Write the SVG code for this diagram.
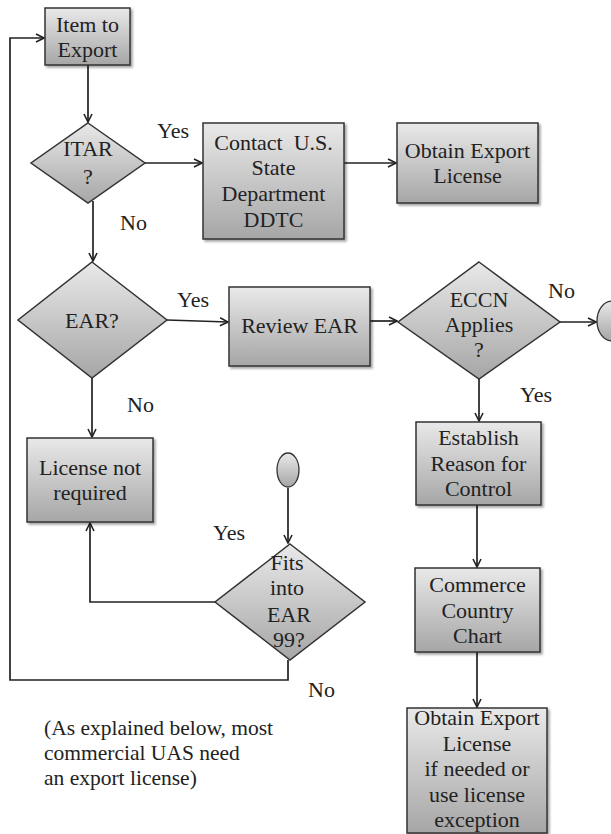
<svg xmlns="http://www.w3.org/2000/svg" width="611" height="834" viewBox="0 0 611 834">
  <defs>
    <linearGradient id="shade" x1="0" y1="0" x2="0" y2="1">
      <stop offset="0" stop-color="#e9e9e9"/>
      <stop offset="1" stop-color="#a6a6a6"/>
    </linearGradient>
    <filter id="shadow" x="-10%" y="-10%" width="130%" height="130%">
      <feDropShadow dx="2" dy="2" stdDeviation="1.2" flood-color="#000" flood-opacity="0.35"/>
    </filter>
    <marker id="arrow" viewBox="0 0 10 10" refX="9" refY="5" markerWidth="10" markerHeight="10" markerUnits="userSpaceOnUse" orient="auto">
      <path d="M1,1 L9,5 L1,9" fill="none" stroke="#222" stroke-width="1.6"/>
    </marker>
  </defs>
  <style>
    .box { fill: url(#shade); stroke: #333; stroke-width: 1.5; filter: url(#shadow); }
    .dia { fill: url(#shade); stroke: #333; stroke-width: 1.5; }
    .term { fill: url(#shade); stroke: #333; stroke-width: 1.3; }
    .t { font-family: "Liberation Serif", "DejaVu Serif", serif; font-size: 22px; fill: #222; text-anchor: middle; white-space: pre; }
    .lbl { font-family: "Liberation Serif", "DejaVu Serif", serif; font-size: 22px; fill: #222; }
    .note { font-family: "Liberation Serif", "DejaVu Serif", serif; font-size: 21.5px; fill: #222; }
    .conn path { fill: none; stroke: #222; stroke-width: 1.7; }
  </style>
  <rect width="611" height="834" fill="#ffffff"/>

  <!-- connectors -->
  <g id="connectors" class="conn">
    <path d="M288,660 V680 H10 V38 H44" marker-end="url(#arrow)"/>
    <path d="M88,65 V122" marker-end="url(#arrow)"/>
    <path d="M145,163 H202" marker-end="url(#arrow)"/>
    <path d="M344,163 H396" marker-end="url(#arrow)"/>
    <path d="M93,201 V261" marker-end="url(#arrow)"/>
    <path d="M167,320 L228,322" marker-end="url(#arrow)"/>
    <path d="M370,321 H397" marker-end="url(#arrow)"/>
    <path d="M560,322 H596" marker-end="url(#arrow)"/>
    <path d="M479,367 V421" marker-end="url(#arrow)"/>
    <path d="M477,505 V567" marker-end="url(#arrow)"/>
    <path d="M477,652 V707" marker-end="url(#arrow)"/>
    <path d="M92,378 V437" marker-end="url(#arrow)"/>
    <path d="M288,488 V543" marker-end="url(#arrow)"/>
    <path d="M215,602 H90 V523" marker-end="url(#arrow)"/>
  </g>

  <!-- nodes -->
  <g id="item-to-export">
    <rect class="box" x="45" y="8" width="85" height="57"/>
    <text class="t" x="87.5" y="32">Item to</text>
    <text class="t" x="87.5" y="57">Export</text>
  </g>

  <g id="itar">
    <polygon class="dia" points="88,123 145,163 88,203 31,163"/>
    <text class="t" x="88" y="156">ITAR</text>
    <text class="t" x="88" y="184">?</text>
  </g>

  <g id="contact-ddtc">
    <rect class="box" x="203" y="123" width="141" height="116"/>
    <text class="t" x="273.5" y="150" xml:space="preserve">Contact  U.S.</text>
    <text class="t" x="273.5" y="175">State</text>
    <text class="t" x="273.5" y="201">Department</text>
    <text class="t" x="273.5" y="227">DDTC</text>
  </g>

  <g id="obtain-license-state">
    <rect class="box" x="397" y="123" width="141" height="80"/>
    <text class="t" x="467.5" y="158">Obtain Export</text>
    <text class="t" x="467.5" y="183">License</text>
  </g>

  <g id="ear">
    <polygon class="dia" points="92,262 167,320 92,378 18,320"/>
    <text class="t" x="92" y="328">EAR?</text>
  </g>

  <g id="review-ear">
    <rect class="box" x="229" y="287" width="141" height="79"/>
    <text class="t" x="299.5" y="333">Review EAR</text>
  </g>

  <g id="eccn">
    <polygon class="dia" points="479,262 560,322 479,379 398,322"/>
    <text class="t" x="479" y="307">ECCN</text>
    <text class="t" x="479" y="332">Applies</text>
    <text class="t" x="479" y="357">?</text>
  </g>

  <g id="connector-right">
    <ellipse class="term" cx="612" cy="321" rx="15" ry="20"/>
  </g>

  <g id="establish-reason">
    <rect class="box" x="416" y="422" width="125" height="83"/>
    <text class="t" x="478.5" y="445">Establish</text>
    <text class="t" x="478.5" y="471">Reason for</text>
    <text class="t" x="478.5" y="496">Control</text>
  </g>

  <g id="commerce-country-chart">
    <rect class="box" x="415" y="568" width="125" height="84"/>
    <text class="t" x="477.5" y="592">Commerce</text>
    <text class="t" x="477.5" y="618">Country</text>
    <text class="t" x="477.5" y="643">Chart</text>
  </g>

  <g id="obtain-license-commerce">
    <rect class="box" x="407" y="708" width="140" height="125"/>
    <text class="t" x="477" y="725">Obtain Export</text>
    <text class="t" x="477" y="751">License</text>
    <text class="t" x="477" y="776">if needed or</text>
    <text class="t" x="477" y="802">use license</text>
    <text class="t" x="477" y="827">exception</text>
  </g>

  <g id="license-not-required">
    <rect class="box" x="27" y="438" width="126" height="84"/>
    <text class="t" x="90" y="475">License not</text>
    <text class="t" x="90" y="500">required</text>
  </g>

  <g id="connector-left">
    <ellipse class="term" cx="288" cy="470" rx="11" ry="17"/>
  </g>

  <g id="ear99">
    <polygon class="dia" points="290,544 365,602 290,660 215,602"/>
    <text class="t" x="287" y="570">Fits</text>
    <text class="t" x="287" y="595">into</text>
    <text class="t" x="289" y="622">EAR</text>
    <text class="t" x="289" y="647">99?</text>
  </g>

  <!-- branch labels -->
  <g id="labels">
    <text class="lbl" x="157" y="138">Yes</text>
    <text class="lbl" x="120" y="230">No</text>
    <text class="lbl" x="177" y="307">Yes</text>
    <text class="lbl" x="127" y="412">No</text>
    <text class="lbl" x="548" y="298">No</text>
    <text class="lbl" x="520" y="402">Yes</text>
    <text class="lbl" x="213" y="540">Yes</text>
    <text class="lbl" x="308" y="697">No</text>
  </g>

  <g id="note">
    <text class="note" x="44" y="735">(As explained below, most</text>
    <text class="note" x="44" y="760">commercial UAS need</text>
    <text class="note" x="44" y="785">an export license)</text>
  </g>
</svg>
